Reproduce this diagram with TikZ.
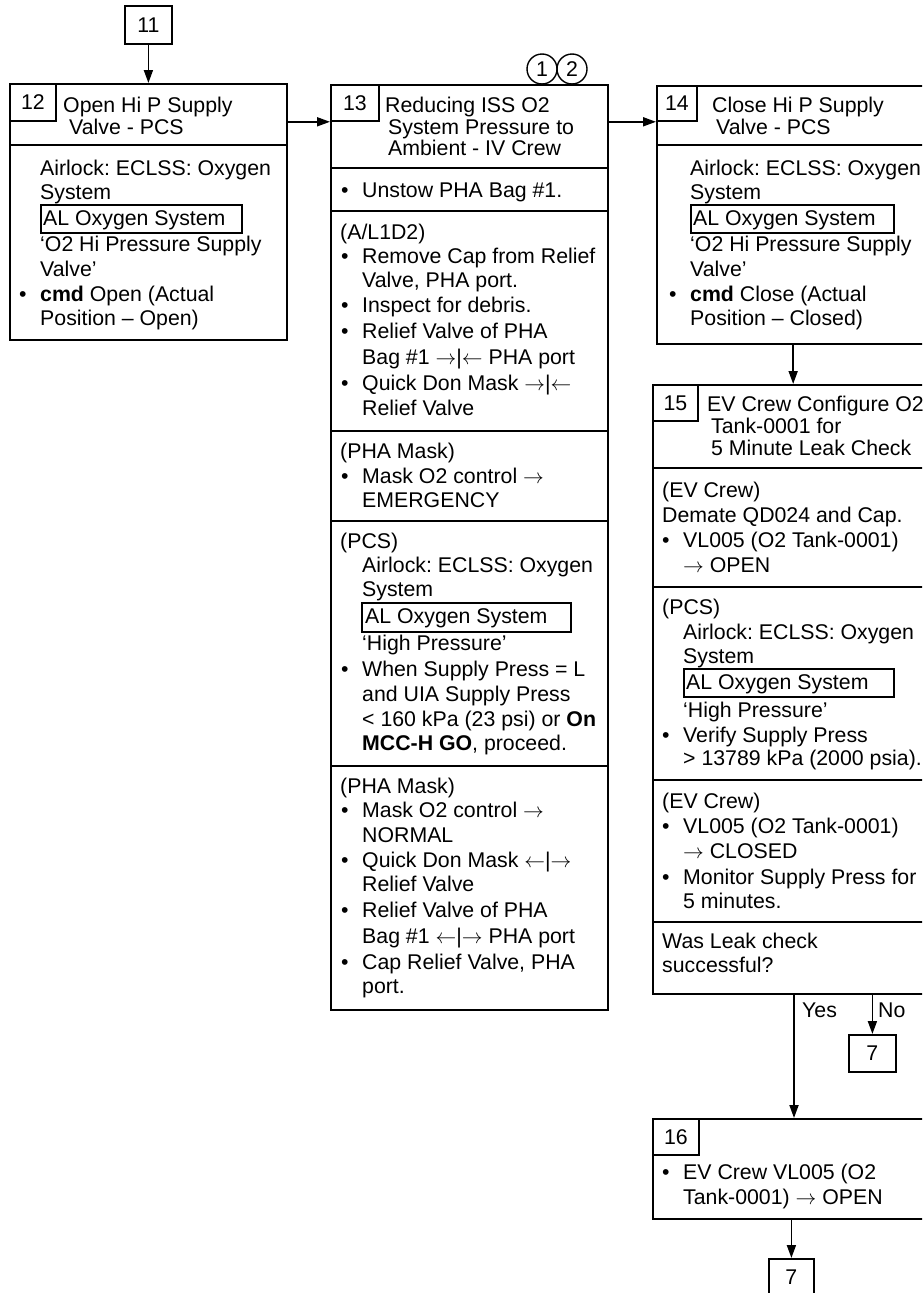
\documentclass[tikz,border=0pt]{standalone}
\usepackage{fontspec}
\setmainfont{Liberation Sans}
\usetikzlibrary{arrows.meta}
\frenchspacing
\newcommand\rarr{$\rightarrow$}
\newcommand\larr{$\leftarrow$}
\newcounter{tn}
\newcommand\tx[3]{\stepcounter{tn}\node[txt] (t\arabic{tn}) at (#1,#2+7.5) {#3};}
\newcommand\bx[3]{\stepcounter{tn}\node[txt] (u\arabic{tn}) at (#1-21,#2+7.5) {•};\node[txt] (t\arabic{tn}) at (#1,#2+7.5) {#3};}
\tikzset{
  fnt/.style={font=\fontsize{21.3}{25}\selectfont},
  txt/.style={fnt, anchor=base west, inner sep=0pt},
  outerbox/.style={draw, line width=2.3pt, anchor=north west, inner sep=0pt},
  numbox/.style={fnt, draw, line width=1.8pt, anchor=north west, inner sep=0pt},
  albox/.style={draw, line width=1.8pt, anchor=north west, inner sep=0pt},
  divline/.style={line width=2.3pt},
  arr/.style={line width=1.8pt, -{Triangle[length=13pt,width=9pt]}},
  circ/.style={fnt, circle, draw, line width=1.4pt, minimum size=30pt, inner sep=0pt},
}
\begin{document}
\begin{tikzpicture}[x=1pt,y=-1pt]
\useasboundingbox (0,0) rectangle (922,1293);
\clip (0,0) rectangle (922,1293);
\fill[white] (0,0) rectangle (922,1293);

% ---------- box 11 ----------
\node[numbox, minimum width=47pt, minimum height=38pt] (n11) at (124,5) {11};

% ---------- box 12 ----------
\node[outerbox, minimum width=277pt, minimum height=256pt] (b12) at (9,83) {};
\node[numbox, minimum width=46pt, minimum height=37pt] (n12) at (9,83) {12};
\draw[divline] (b12.west |- 0,145) -- (b12.east |- 0,145);
\tx{63}{105}{Open Hi P Supply}
\tx{69}{127}{Valve - PCS}
\tx{40}{168}{Airlock: ECLSS: Oxygen}
\tx{40}{192}{System}
\node[albox, minimum width=201pt, minimum height=28pt] (al12) at (40,204) {};
\tx{43}{218}{AL Oxygen System}
\tx{40}{244}{‘O2 Hi Pressure Supply}
\tx{40}{269}{Valve’}
\bx{40}{294}{\textbf{cmd} Open (Actual}
\tx{40}{318}{Position -- Open)}

% ---------- box 13 ----------
\node[outerbox, minimum width=277pt, minimum height=925pt] (b13) at (330,84) {};
\node[numbox, minimum width=48pt, minimum height=36pt] (n13) at (330,84) {13};
\node[circ] (c1) at (542,69) {1};
\node[circ] (c2) at (572,69) {2};
\tx{385}{105}{Reducing ISS O2}
\tx{388}{127}{System Pressure to}
\tx{388}{148}{Ambient - IV Crew}
\draw[divline] (b13.west |- 0,168) -- (b13.east |- 0,168);
\bx{362}{190}{Unstow PHA Bag \#1.}
\draw[divline] (b13.west |- 0,211) -- (b13.east |- 0,211);
\tx{340}{232}{(A/L1D2)}
\bx{362}{256}{Remove Cap from Relief}
\tx{362}{280}{Valve, PHA port.}
\bx{362}{305}{Inspect for debris.}
\bx{362}{331}{Relief Valve of PHA}
\tx{362}{357}{Bag \#1 \rarr|\larr{} PHA port}
\bx{362}{383}{Quick Don Mask \rarr|\larr}
\tx{362}{408}{Relief Valve}
\draw[divline] (b13.west |- 0,431) -- (b13.east |- 0,431);
\tx{340}{451}{(PHA Mask)}
\bx{362}{476}{Mask O2 control \rarr}
\tx{362}{500}{EMERGENCY}
\draw[divline] (b13.west |- 0,521) -- (b13.east |- 0,521);
\tx{340}{541}{(PCS)}
\tx{362}{565}{Airlock: ECLSS: Oxygen}
\tx{362}{589}{System}
\node[albox, minimum width=209pt, minimum height=29pt] (al13) at (361,602) {};
\tx{365}{616}{AL Oxygen System}
\tx{362}{643}{‘High Pressure’}
\bx{362}{669}{When Supply Press = L}
\tx{362}{694}{and UIA Supply Press}
\tx{362}{719}{< 160 kPa (23 psi) or \textbf{On}}
\tx{362}{743}{\textbf{MCC-H GO}, proceed.}
\draw[divline] (b13.west |- 0,766) -- (b13.east |- 0,766);
\tx{340}{786}{(PHA Mask)}
\bx{362}{810}{Mask O2 control \rarr}
\tx{362}{835}{NORMAL}
\bx{362}{860}{Quick Don Mask \larr|\rarr}
\tx{362}{884}{Relief Valve}
\bx{362}{910}{Relief Valve of PHA}
\tx{362}{936}{Bag \#1 \larr|\rarr{} PHA port}
\bx{362}{962}{Cap Relief Valve, PHA}
\tx{362}{986}{port.}

% ---------- box 14 ----------
\node[outerbox, minimum width=272pt, minimum height=258pt] (b14) at (656,85) {};
\node[numbox, minimum width=40pt, minimum height=35pt] (n14) at (656,85) {14};
\draw[divline] (b14.west |- 0,145) -- (b14.east |- 0,145);
\tx{712}{105}{Close Hi P Supply}
\tx{716}{127}{Valve - PCS}
\tx{690}{168}{Airlock: ECLSS: Oxygen}
\tx{690}{192}{System}
\node[albox, minimum width=203pt, minimum height=28pt] (al14) at (690,204) {};
\tx{693}{218}{AL Oxygen System}
\tx{690}{244}{‘O2 Hi Pressure Supply}
\tx{690}{269}{Valve’}
\bx{690}{294}{\textbf{cmd} Close (Actual}
\tx{690}{318}{Position -- Closed)}

% ---------- box 15 ----------
\node[outerbox, minimum width=280pt, minimum height=609pt] (b15) at (652,384) {};
\node[numbox, minimum width=45pt, minimum height=36pt] (n15) at (652,384) {15};
\tx{707}{404}{EV Crew Configure O2}
\tx{711}{426}{Tank-0001 for}
\tx{711}{448}{5 Minute Leak Check}
\draw[divline] (b15.west |- 0,468) -- (b15.east |- 0,468);
\tx{662}{490}{(EV Crew)}
\tx{662}{515}{Demate QD024 and Cap.}
\bx{683}{540}{VL005 (O2 Tank-0001)}
\tx{683}{565}{\rarr{} OPEN}
\draw[divline] (b15.west |- 0,587) -- (b15.east |- 0,587);
\tx{662}{607}{(PCS)}
\tx{683}{632}{Airlock: ECLSS: Oxygen}
\tx{683}{656}{System}
\node[albox, minimum width=210pt, minimum height=28pt] (al15) at (683,668) {};
\tx{686}{682}{AL Oxygen System}
\tx{683}{710}{‘High Pressure’}
\bx{683}{735}{Verify Supply Press}
\tx{683}{758}{> 13789 kPa (2000 psia).}
\draw[divline] (b15.west |- 0,780) -- (b15.east |- 0,780);
\tx{662}{801}{(EV Crew)}
\bx{683}{826}{VL005 (O2 Tank-0001)}
\tx{683}{851}{\rarr{} CLOSED}
\bx{683}{877}{Monitor Supply Press for}
\tx{683}{901}{5 minutes.}
\draw[divline] (b15.west |- 0,922) -- (b15.east |- 0,922);
\tx{662}{941}{Was Leak check}
\tx{662}{965}{successful?}

% ---------- decision ----------
\coordinate (yesx) at (794,0);
\node[numbox, minimum width=47pt, minimum height=37pt] (n7a) at (848,1034) {7};
\node[txt] (lyes) at (802,1017.5) {Yes};
\node[txt] (lno) at (878,1017.5) {No};

% ---------- box 16 ----------
\node[outerbox, minimum width=278pt, minimum height=100pt] (b16) at (652,1118) {};
\node[numbox, minimum width=46pt, minimum height=36pt] (n16) at (652,1118) {16};
\bx{683}{1172}{EV Crew VL005 (O2}
\tx{683}{1197}{Tank-0001) \rarr{} OPEN}
\node[numbox, minimum width=45pt, minimum height=36pt] (n7b) at (768,1258) {7};

% ---------- connectors ----------
\draw[arr] (n11.south) -- (n11.south |- b12.north);
\draw[arr] (n12.south -| b12.east) -- (n12.south -| b13.west);
\draw[arr] (n13.south -| b13.east) -- (n13.south -| b14.west);
\draw[arr] (b14.south) -- (b14.south |- b15.north);
\draw[arr] (b15.south -| yesx) -- (b16.north -| yesx);
\draw[arr] (b15.south -| n7a) -- (n7a.north);
\draw[arr] (b16.south -| n7b) -- (n7b.north);
\end{tikzpicture}
\end{document}
